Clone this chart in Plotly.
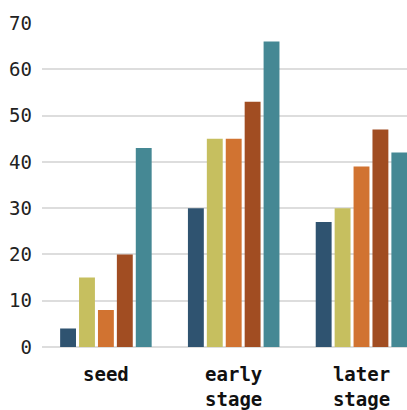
import plotly.graph_objects as go

categories = ["seed", "early<br>stage", "later<br>stage"]
series_names = ["A", "B", "C", "D", "E"]
series_values = [
    [4, 30, 27],
    [15, 45, 30],
    [8, 45, 39],
    [20, 53, 47],
    [43, 66, 42],
]
colors = ["#2f5370", "#c6bf5f", "#d17331", "#a14d22", "#458894"]
y_ticks = [0, 10, 20, 30, 40, 50, 60, 70]

fig = go.Figure()
for name, vals, col in zip(series_names, series_values, colors):
    fig.add_trace(go.Bar(
        x=categories, y=vals, name=name,
        marker=dict(color=col, line=dict(width=0)),
    ))

fig.update_layout(
    width=407, height=410,
    margin=dict(l=42, r=0, t=23, b=61),
    barmode="group", bargap=0.26, bargroupgap=0.16,
    showlegend=False,
    plot_bgcolor="white", paper_bgcolor="white",
    font=dict(family="DejaVu Sans Mono", color="#222"),
)
fig.update_xaxes(
    range=[-0.5, 2.356],
    tickfont=dict(size=19, family="DejaVu Sans Mono", weight="bold", color="#111"),
    showgrid=False, showline=False, ticks="", ticklabelstandoff=14,
)
fig.update_yaxes(
    range=[0, 70], tickvals=y_ticks,
    tickfont=dict(size=19, family="DejaVu Sans Mono", color="#222"),
    showgrid=True, gridcolor="#dddddd", gridwidth=1.5,
    zeroline=True, zerolinecolor="#dddddd", zerolinewidth=1.5,
    ticks="", ticklabelstandoff=9,
)

fig.write_html("out.html")
